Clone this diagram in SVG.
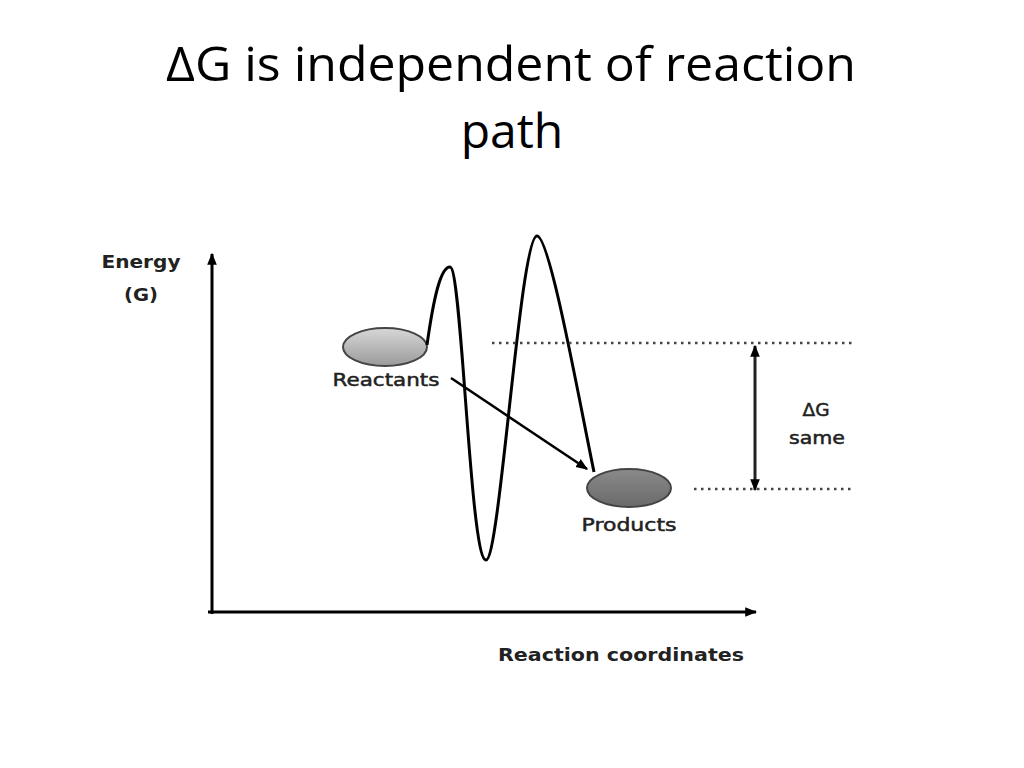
<svg xmlns="http://www.w3.org/2000/svg" width="1024" height="768" viewBox="0 0 1024 768">
<defs>
<style>
.title{font-family:"Open Sans","Liberation Sans",sans-serif;font-size:48px;fill:#000;text-anchor:middle}
.lbl{font-family:"DejaVu Sans","Liberation Sans",sans-serif;font-size:18px;fill:#222;stroke:#222;stroke-width:0.5}
.b{font-weight:bold;stroke-width:0}
.ax{stroke:#000;stroke-width:3;fill:none}
.dot{stroke:#444;stroke-width:2.5;stroke-dasharray:2.5 4.5;fill:none}
</style>
<linearGradient id="gR" x1="0" y1="0" x2="0" y2="1">
<stop offset="0" stop-color="#d8d8d8"/><stop offset="1" stop-color="#9a9a9a"/>
</linearGradient>
<linearGradient id="gP" x1="0" y1="0" x2="0" y2="1">
<stop offset="0" stop-color="#8a8a8a"/><stop offset="1" stop-color="#6a6a6a"/>
</linearGradient>
<marker id="ah2" viewBox="0 0 10 10" refX="9" refY="5" markerWidth="12" markerHeight="12" orient="auto-start-reverse" markerUnits="userSpaceOnUse">
<path d="M0,1 L10,5 L0,9 z" fill="#000"/>
</marker>
</defs>
<rect width="1024" height="768" fill="#fff"/>
<text class="title" x="511" y="81" textLength="690" lengthAdjust="spacingAndGlyphs">ΔG is independent of reaction</text>
<text class="title" x="512" y="148">path</text>

<g id="axes">
<line class="ax" x1="212" y1="614" x2="212" y2="254" marker-end="url(#ah2)"/>
<line class="ax" x1="208" y1="612" x2="756" y2="612" marker-end="url(#ah2)"/>
</g>
<g id="energy-label">
<text class="lbl b" x="141" y="268" text-anchor="middle" textLength="79" lengthAdjust="spacingAndGlyphs">Energy</text>
<text class="lbl b" x="141" y="301" text-anchor="middle" textLength="34" lengthAdjust="spacingAndGlyphs">(G)</text>
</g>
<g id="axis-label">
<text class="lbl b" x="621" y="661" text-anchor="middle" textLength="246" lengthAdjust="spacingAndGlyphs">Reaction coordinates</text>
</g>

<g id="reactants">
<ellipse cx="385" cy="347" rx="42" ry="19" fill="url(#gR)" stroke="#444" stroke-width="2"/>
<text class="lbl" x="386" y="386" text-anchor="middle" textLength="107" lengthAdjust="spacingAndGlyphs">Reactants</text>
</g>
<g id="products">
<ellipse cx="629" cy="488" rx="42" ry="19" fill="url(#gP)" stroke="#444" stroke-width="2"/>
<text class="lbl" x="629" y="531" text-anchor="middle" textLength="95" lengthAdjust="spacingAndGlyphs">Products</text>
</g>

<g id="connectors">
<path d="M427,345 C434,295 441,267 450,267 C462,267 470,560 486,560 C500,560 520,236 537,236 C550,236 580,405 594,472" fill="none" stroke="#000" stroke-width="3"/>
<line x1="451" y1="378" x2="587" y2="469" stroke="#000" stroke-width="2.5" marker-end="url(#ah2)"/>
<line class="dot" x1="492" y1="343" x2="852" y2="343"/>
<line class="dot" x1="694" y1="489" x2="852" y2="489"/>
<line x1="755" y1="346" x2="755" y2="490" stroke="#222" stroke-width="3" marker-start="url(#ah2)" marker-end="url(#ah2)"/>
</g>
<g id="dg-label">
<text class="lbl" x="816" y="416" text-anchor="middle" textLength="27" lengthAdjust="spacingAndGlyphs">ΔG</text>
<text class="lbl" x="817" y="444" text-anchor="middle" textLength="56" lengthAdjust="spacingAndGlyphs">same</text>
</g>
</svg>
